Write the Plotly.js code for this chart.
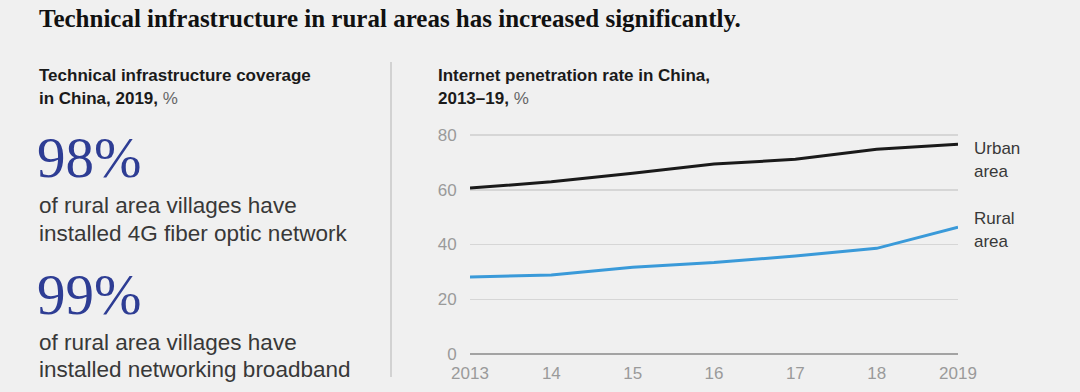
<!DOCTYPE html>
<html>
<head>
<meta charset="utf-8">
<script src="https://cdn.plot.ly/plotly-3.0.1.min.js"></script>
<style>
  html, body { margin: 0; padding: 0; background: #f0f0f0; }
  #chart { width: 1080px; height: 392px; }
</style>
</head>
<body>
<div id="chart"></div>
<script>
// ---- Data ----
var years = [2013, 2014, 2015, 2016, 2017, 2018, 2019];
var yearLabels = ['2013', '14', '15', '16', '17', '18', '2019'];
var urbanRate = [60.6, 62.9, 66.0, 69.4, 71.1, 74.8, 76.6];
var ruralRate = [28.1, 28.9, 31.7, 33.4, 35.8, 38.6, 46.3];
var yTicks = [0, 20, 40, 60, 80];
var statValues = ['98%', '99%'];
var statTexts = [
  ['of rural area villages have', 'installed 4G fiber optic network'],
  ['of rural area villages have', 'installed networking broadband']
];

// ---- Layout helpers (pixel -> paper) ----
var W = 1080, H = 392;
function px(x) { return x / W; }
function py(y) { return 1 - y / H; }

var sans = 'Liberation Sans, Arial, sans-serif';
var serif = 'Liberation Serif, Times New Roman, serif';
var textCol = '#383838';

function ann(x, y, text, size, color, family, extra) {
  var a = {
    xref: 'paper', yref: 'paper', x: px(x), y: py(y),
    xanchor: 'left', yanchor: 'middle', showarrow: false,
    text: text, align: 'left',
    font: { size: size, color: color, family: family }
  };
  if (extra) for (var k in extra) a[k] = extra[k];
  return a;
}

var annotations = [
  ann(37, 19, '<b>Technical infrastructure in rural areas has increased significantly.</b>', 25, '#111111', serif),
  ann(37, 75, '<b>Technical infrastructure coverage</b>', 17, '#1a1a1a', sans),
  ann(37, 98, '<b>in China, 2019,</b> <span style="color:#666666">%</span>', 17, '#1a1a1a', sans),
  ann(35, 157, statValues[0], 57, '#2e3d94', serif),
  ann(37, 205, statTexts[0][0], 22.5, textCol, sans),
  ann(37, 233, statTexts[0][1], 22.5, textCol, sans),
  ann(35, 294, statValues[1], 57, '#2e3d94', serif),
  ann(37, 342, statTexts[1][0], 22.5, textCol, sans),
  ann(37, 369, statTexts[1][1], 22.5, textCol, sans),
  ann(436, 75, '<b>Internet penetration rate in China,</b>', 17, '#1a1a1a', sans),
  ann(436, 98, '<b>2013–19,</b> <span style="color:#666666">%</span>', 17, '#1a1a1a', sans),
  ann(972, 148, 'Urban', 17, textCol, sans),
  ann(972, 171, 'area', 17, textCol, sans),
  ann(972, 218, 'Rural', 17, textCol, sans),
  ann(972, 241, 'area', 17, textCol, sans)
];

var traces = [
  {
    x: years, y: urbanRate, type: 'scatter', mode: 'lines', name: 'Urban area',
    line: { color: '#1a1a1a', width: 3 }, hoverinfo: 'skip'
  },
  {
    x: years, y: ruralRate, type: 'scatter', mode: 'lines', name: 'Rural area',
    line: { color: '#3a9ad9', width: 3 }, hoverinfo: 'skip'
  }
];

var layout = {
  width: W, height: H,
  margin: { l: 0, r: 0, t: 0, b: 0, pad: 0 },
  paper_bgcolor: '#f0f0f0',
  plot_bgcolor: '#f0f0f0',
  showlegend: false,
  xaxis: {
    domain: [px(470), px(958)],
    range: [2013, 2019],
    tickvals: years,
    ticktext: yearLabels,
    showgrid: false, zeroline: false, showline: false,
    ticks: 'outside', ticklen: 4, tickcolor: 'rgba(0,0,0,0)',
    tickfont: { size: 17, color: '#9a9a9a', family: sans },
    fixedrange: true
  },
  yaxis: {
    domain: [py(354), py(354 - 84 * 219 / 80)],
    range: [0, 84],
    tickvals: yTicks,
    showgrid: true, gridcolor: '#d6d6d6', gridwidth: 1.5,
    zeroline: true, zerolinecolor: '#a3a3a3', zerolinewidth: 2,
    showline: false,
    ticks: 'outside', ticklen: 9, tickcolor: 'rgba(0,0,0,0)',
    tickfont: { size: 17, color: '#9a9a9a', family: sans },
    fixedrange: true
  },
  shapes: [
    {
      type: 'line', xref: 'paper', yref: 'paper',
      x0: px(391), x1: px(391), y0: py(62), y1: py(377),
      line: { color: '#c9c9c9', width: 1.5 }
    }
  ],
  annotations: annotations
};

Plotly.newPlot('chart', traces, layout, { displayModeBar: false, staticPlot: true });
</script>
</body>
</html>
